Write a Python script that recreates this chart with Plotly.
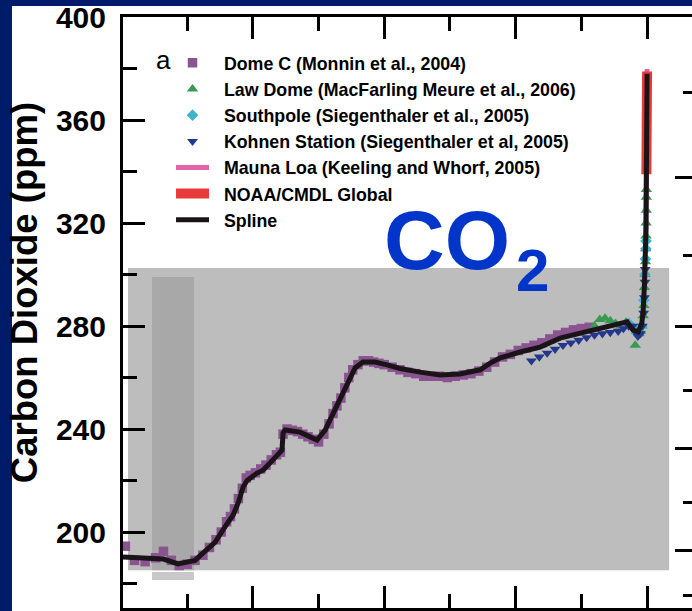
import math
import plotly.graph_objects as go

# ---------------- data (years before 2005, ppm) ----------------
spline_age = [19940, 19300, 18400, 17850, 17200, 16900, 16440, 16060, 15750, 15560,
              15370, 15220, 14840, 14610, 14350, 14150, 13890, 13850, 13770, 13200,
              12820, 12560, 12250, 11950, 11640, 11380, 11110, 10810, 10350, 9890,
              9400, 8640, 7880, 7120, 6350, 5970, 5590, 4830, 4070, 3310,
              2550, 1790, 1030, 760, 530, 340, 200, 150, 100, 75,
              55, 40, 25, 10, 0]
spline_ppm = [190.3, 189.9, 189.5, 187.6, 189.0, 191.8, 196.0, 202.0, 206.6, 211.3,
              217.5, 220.0, 222.9, 224.0, 226.8, 229.0, 231.8, 238.4, 239.6, 238.8,
              236.9, 235.7, 239.6, 246.0, 252.4, 259.0, 263.7, 266.0, 266.0, 264.9,
              263.5, 262.1, 261.0, 261.4, 263.0, 265.6, 267.6, 269.9, 271.8, 275.3,
              277.3, 279.2, 281.2, 281.6, 278.4, 277.7, 281.0, 285.5, 296.0, 303.0,
              311.0, 318.0, 338.5, 361.0, 378.0]

domec_age = [19850, 19500, 19100, 18700, 18400, 18100, 17800, 17500, 17200, 16900,
             16650, 16400, 16200, 16000, 15850, 15700, 15550, 15400, 15250, 15100,
             14900, 14700, 14500, 14300, 14100, 13950, 13850, 13700, 13500, 13300,
             13100, 12900, 12700, 12500, 12300, 12100, 11950, 11800, 11650, 11500,
             11350, 11200, 11000, 10800, 10600, 10400, 10200, 10000, 9700, 9400,
             9100, 8800, 8500, 8200, 7900, 7600, 7300, 7000, 6700, 6400,
             6100, 5800, 5500, 5200, 4900, 4600, 4300, 4000, 3700, 3400,
             3100, 2800, 2500, 2200]
domec_ppm = [194.5, 189.0, 188.5, 190.0, 192.5, 189.0, 187.0, 187.5, 189.0, 191.0,
             194.0, 197.0, 200.0, 204.0, 206.0, 209.0, 213.0, 217.0, 221.0, 222.0,
             223.0, 224.5, 226.0, 228.0, 230.0, 231.0, 238.0, 240.0, 239.5, 239.0,
             238.0, 237.0, 236.0, 235.0, 238.0, 242.0, 246.0, 249.0, 252.0, 256.0,
             260.0, 263.0, 265.0, 266.5, 266.5, 266.0, 265.5, 265.0, 264.0, 263.0,
             262.0, 261.5, 260.5, 260.5, 260.5, 260.0, 260.5, 261.0, 261.5, 262.5,
             264.0, 266.0, 268.0, 269.0, 270.5, 271.5, 272.5, 273.5, 275.0, 276.5,
             277.5, 278.5, 279.0, 279.5]

lawdome_age = [2000, 1800, 1600, 1400, 1200, 1000, 800, 600, 450, 400,
               300, 250, 200, 150, 120, 100, 80, 60, 50, 40, 35, 30, 27, 25]
lawdome_ppm = [280.0, 282.5, 283.0, 282.0, 281.0, 280.0, 281.5, 280.0, 272.5, 278.0,
               277.0, 278.0, 280.0, 284.0, 288.0, 295.0, 300.0, 305.0, 310.0, 315.0,
               320.0, 325.0, 330.0, 333.0]

southpole_age = [900, 700, 500, 350, 200, 120, 80, 60, 45, 40]
southpole_ppm = [280.0, 281.0, 279.0, 277.5, 280.0, 290.0, 300.0, 306.0, 310.0, 313.0]

kohnen_age = [4400, 4100, 3800, 3500, 3200, 2900, 2600, 2300, 2000, 1700,
              1400, 1100, 900, 700, 550, 450, 350, 250, 180, 130, 100, 80, 70]
kohnen_ppm = [266.5, 268.0, 269.5, 271.0, 272.5, 273.5, 274.5, 275.5, 276.5, 277.0,
              277.5, 278.0, 279.0, 280.0, 280.0, 278.0, 276.0, 277.0, 280.0, 285.0,
              291.0, 297.0, 302.0]

maunaloa_age = [47, 40, 35, 30, 25, 20, 15, 10, 5, 0]
maunaloa_ppm = [315.3, 320.0, 325.7, 331.1, 338.8, 346.1, 354.4, 360.8, 369.6, 379.8]

noaa_age = [25, 20, 15, 10, 5, 0]
noaa_ppm = [338.9, 345.5, 353.9, 360.2, 369.0, 378.8]

# radiative-forcing ticks on the right axis (W m-2, relative to 280 ppm)
rf_major = [-2.0, -1.0, 0.0, 1.0]
rf_minor = [-2.5, -1.5, -0.5, 0.5, 1.5]
C0 = 280.0

# ---------------- styling ----------------
NAVY = "#011b6b"
FONT = "Liberation Sans"
X_RANGE = [19940, -1710]
Y_RANGE = [170.5, 400]
GAP = "\u00a0\u00a0"
BLUE = "#0035c9"

fig = go.Figure()

fig.add_trace(go.Scatter(x=domec_age, y=domec_ppm, mode="markers", name=GAP + "Dome C (Monnin et al., 2004)",
                         marker=dict(symbol="square", size=9.5, color="#8a5490")))
fig.add_trace(go.Scatter(x=lawdome_age, y=lawdome_ppm, mode="markers", name=GAP + "Law Dome (MacFarling Meure et al., 2006)",
                         marker=dict(symbol="triangle-up", size=10, color="#3a9a52")))
fig.add_trace(go.Scatter(x=southpole_age, y=southpole_ppm, mode="markers", name=GAP + "Southpole (Siegenthaler et al., 2005)",
                         marker=dict(symbol="diamond", size=9, color="#3fb3cc")))
fig.add_trace(go.Scatter(x=kohnen_age, y=kohnen_ppm, mode="markers", name=GAP + "Kohnen Station (Siegenthaler et al, 2005)",
                         marker=dict(symbol="triangle-down", size=9.5, color="#24378a")))
fig.add_trace(go.Scatter(x=maunaloa_age, y=maunaloa_ppm, mode="lines", name=GAP + "Mauna Loa (Keeling and Whorf, 2005)",
                         line=dict(color="#e065ad", width=5)))
fig.add_trace(go.Scatter(x=noaa_age, y=noaa_ppm, mode="lines", name=GAP + "NOAA/CMDL Global",
                         line=dict(color="#e83a3a", width=10)))
fig.add_trace(go.Scatter(x=spline_age, y=spline_ppm, mode="lines", name=GAP + "Spline",
                         line=dict(color="#1a1418", width=5)))

# invisible trace carrying the right-hand forcing axis
fig.add_trace(go.Scatter(x=[X_RANGE[0]], y=[Y_RANGE[0]], yaxis="y2", mode="markers",
                         marker=dict(opacity=0), showlegend=False, hoverinfo="skip"))

shapes = [
    # white panel over the navy slide background
    dict(type="rect", xref="paper", yref="paper", x0=-0.1951, x1=1.02, y0=-0.02, y1=1.0186,
         fillcolor="white", line=dict(width=0), layer="below"),
    # grey overlay box
    dict(type="rect", xref="x", yref="y", x0=19750, x1=-840, y0=185.2, y1=302.5,
         fillcolor="#bdbdbd", line=dict(width=0), layer="below"),
    # darker grey bar
    dict(type="rect", xref="x", yref="y", x0=18835, x1=17240, y0=185.2, y1=299.0,
         fillcolor="#a8a8a8", line=dict(width=0), layer="below"),
    # small light bar below
    dict(type="rect", xref="x", yref="y", x0=18835, x1=17240, y0=181.4, y1=184.5,
         fillcolor="#c8c8c8", line=dict(width=0), layer="below"),
]

annotations = [
    dict(text="Carbon Dioxide (ppm)", xref="paper", yref="paper", x=-0.172, y=0.533,
         textangle=-90, showarrow=False, xanchor="center", yanchor="middle",
         font=dict(family=FONT, size=36.5, color="black", weight="bold")),
    dict(text="a", xref="paper", yref="paper", x=0.0703, y=0.928, showarrow=False,
         xanchor="center", yanchor="middle", font=dict(family=FONT, size=26, color="black")),
    dict(text="CO", xref="paper", yref="paper", x=0.4552, y=0.6227, showarrow=False,
         xanchor="left", yanchor="middle", font=dict(family=FONT, size=84, color=BLUE, weight="bold")),
    dict(text="2", xref="paper", yref="paper", x=0.7205, y=0.5705, showarrow=False,
         xanchor="center", yanchor="middle", font=dict(family=FONT, size=60, color=BLUE, weight="bold")),
]

fig.update_layout(
    width=692, height=611,
    margin=dict(l=123, r=0, t=17, b=3, pad=0),
    paper_bgcolor=NAVY, plot_bgcolor="white",
    shapes=shapes, annotations=annotations,
    showlegend=True,
    legend=dict(x=0.0844, y=0.953, xanchor="left", yanchor="top", bgcolor="rgba(0,0,0,0)",
                font=dict(family=FONT, size=17.8, color="black", weight="bold"),
                itemwidth=33, tracegroupgap=0),
    xaxis=dict(range=X_RANGE, showgrid=False, zeroline=False, showline=True, linewidth=3,
               linecolor="black", mirror="ticks", ticks="inside", ticklen=22, tickwidth=3,
               tickcolor="black", tick0=0, dtick=5000, showticklabels=False,
               minor=dict(ticks="inside", ticklen=14, tickwidth=3, tickcolor="black", dtick=2500, tick0=0, showgrid=False)),
    yaxis=dict(range=Y_RANGE, showgrid=False, zeroline=False, showline=True, linewidth=3,
               linecolor="black", mirror=False, ticks="inside", ticklen=22, tickwidth=3,
               tickcolor="black", tick0=200, dtick=40, ticklabelstandoff=8,
               tickfont=dict(family=FONT, size=30, color="black", weight="bold"),
               minor=dict(ticks="inside", ticklen=14, tickwidth=3, tickcolor="black", dtick=20, tick0=200, showgrid=False)),
    yaxis2=dict(range=Y_RANGE, overlaying="y", side="right", showgrid=False, zeroline=False,
                showline=False, ticks="inside", ticklen=17, tickwidth=3, tickcolor="black",
                tickmode="array", tickvals=[C0 * math.exp(v / 5.35) for v in rf_major],
                showticklabels=False,
                minor=dict(ticks="inside", ticklen=9, tickwidth=3, tickcolor="black",
                           tickvals=[C0 * math.exp(v / 5.35) for v in rf_minor], showgrid=False)),
)

fig.write_html("out.html", config={"displayModeBar": False},
               post_script="document.body.style.margin='0';document.body.style.overflow='hidden';")
